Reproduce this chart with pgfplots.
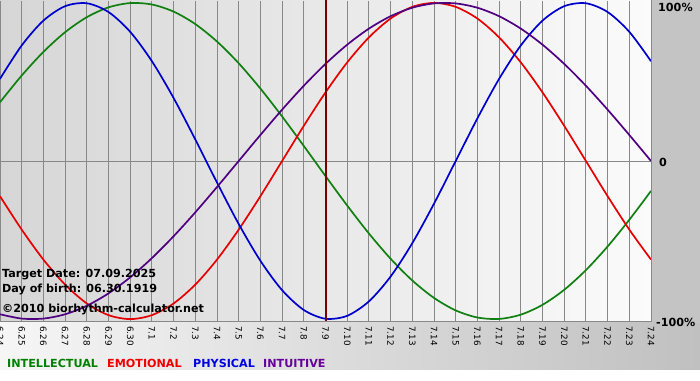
\documentclass[border=0pt]{standalone}
\usepackage{pgfplots}
\pgfplotsset{compat=1.18}
\usepackage{pgfplotstable}
\usepackage{fontspec}
\setmainfont{DejaVu Sans}

\definecolor{cInt}{RGB}{16,128,16}
\definecolor{cEmo}{RGB}{230,0,0}
\definecolor{cPhy}{RGB}{0,0,205}
\definecolor{cTui}{RGB}{80,0,130}
\definecolor{lInt}{RGB}{0,128,0}
\definecolor{lEmo}{RGB}{240,0,0}
\definecolor{lPhy}{RGB}{0,0,230}
\definecolor{lTui}{RGB}{102,0,153}
\definecolor{target}{RGB}{120,0,0}
\definecolor{gridgray}{RGB}{136,136,136}
\definecolor{plotL}{RGB}{214,214,214}
\definecolor{plotR}{RGB}{251,251,251}
\definecolor{bgL}{RGB}{246,246,246}
\definecolor{bgR}{RGB}{192,192,192}
\definecolor{margin}{RGB}{196,196,196}

% d = days from target date 07.09.2025
\pgfplotstableread{
d P E I U
-15 0.5196 -0.2225 0.3717 -0.9694
-14 0.7308 -0.4339 0.5406 -0.9966
-13 0.8879 -0.6235 0.6901 -0.9966
-12 0.9791 -0.7818 0.8146 -0.9694
-11 0.9977 -0.9010 0.9096 -0.9158
-10 0.9423 -0.9749 0.9718 -0.8372
-9 0.8170 -1.0000 0.9989 -0.7357
-8 0.6311 -0.9749 0.9898 -0.6142
-7 0.3984 -0.9010 0.9450 -0.4759
-6 0.1362 -0.7818 0.8660 -0.3247
-5 -0.1362 -0.6235 0.7557 -0.1646
-4 -0.3984 -0.4339 0.6182 0.0000
-3 -0.6311 -0.2225 0.4582 0.1646
-2 -0.8170 0.0000 0.2817 0.3247
-1 -0.9423 0.2225 0.0951 0.4759
0 -0.9977 0.4339 -0.0951 0.6142
1 -0.9791 0.6235 -0.2817 0.7357
2 -0.8879 0.7818 -0.4582 0.8372
3 -0.7308 0.9010 -0.6182 0.9158
4 -0.5196 0.9749 -0.7557 0.9694
5 -0.2698 1.0000 -0.8660 0.9966
6 0.0000 0.9749 -0.9450 0.9966
7 0.2698 0.9010 -0.9898 0.9694
8 0.5196 0.7818 -0.9989 0.9158
9 0.7308 0.6235 -0.9718 0.8372
10 0.8879 0.4339 -0.9096 0.7357
11 0.9791 0.2225 -0.8146 0.6142
12 0.9977 0.0000 -0.6901 0.4759
13 0.9423 -0.2225 -0.5406 0.3247
14 0.8170 -0.4339 -0.3717 0.1646
15 0.6311 -0.6235 -0.1893 0.0000
}\bio

\begin{document}
\begin{tikzpicture}[x=1bp,y=1bp]
\useasboundingbox (0,-59) rectangle (700,321);
\fill[left color=bgL, right color=bgR] (0,-49) rectangle (700,321);
\fill[white] (0,-59) rectangle (700,-49);
\fill[margin] (651,-2) rectangle (700,321);
\fill[left color=plotL, right color=plotR] (0,0) rectangle (651,321);
\begin{axis}[
  at={(0,0)}, anchor=south west,
  scale only axis, width=651bp, height=320bp,
  xmin=-15, xmax=15, ymin=-1.012, ymax=1.012,
  axis line style={draw=none},
  major tick length=0pt,
  xtick={-15,...,15},
  xticklabels={6.24,6.25,6.26,6.27,6.28,6.29,6.30,7.1,7.2,7.3,7.4,7.5,7.6,7.7,7.8,7.9,7.10,7.11,7.12,7.13,7.14,7.15,7.16,7.17,7.18,7.19,7.20,7.21,7.22,7.23,7.24},
  xticklabel style={rotate=-90, anchor=west, inner sep=0pt, font=\fontsize{8.8}{10}\selectfont},
  xticklabel shift=5bp,
  xmajorgrids,
  ytick={0}, yticklabels={},
  ymajorgrids,
  grid style={draw=gridgray, line width=0.9bp},
  every axis plot/.append style={line width=1.7bp, smooth},
]
\addplot[cInt] table[x=d, y=I] {\bio};
\addplot[cEmo] table[x=d, y=E] {\bio};
\addplot[cPhy] table[x=d, y=P] {\bio};
\addplot[cTui] table[x=d, y=U] {\bio};
\addplot[target, line width=2bp, sharp plot] coordinates {(0,-1.1) (0,1.1)};
\end{axis}
\draw[gridgray, line width=0.9bp] (0,0) -- (651,0) -- (651,321);
\begin{scope}[every node/.style={inner sep=0pt, anchor=base west, font=\bfseries\fontsize{11.2}{13}\selectfont}]
\node at (2,44) {Target Date: 07.09.2025};
\node at (2,29) {Day of birth: 06.30.1919};
\node at (2,9) {©2010 biorhythm-calculator.net};
\node at (658,310) {100\%};
\node at (659,155) {0};
\node at (656,-5) {-100\%};
\node[text=lInt] at (7,-46) {INTELLECTUAL};
\node[text=lEmo] at (107,-46) {EMOTIONAL};
\node[text=lPhy] at (193,-46) {PHYSICAL};
\node[text=lTui] at (263,-46) {INTUITIVE};
\end{scope}
\end{tikzpicture}
\end{document}
